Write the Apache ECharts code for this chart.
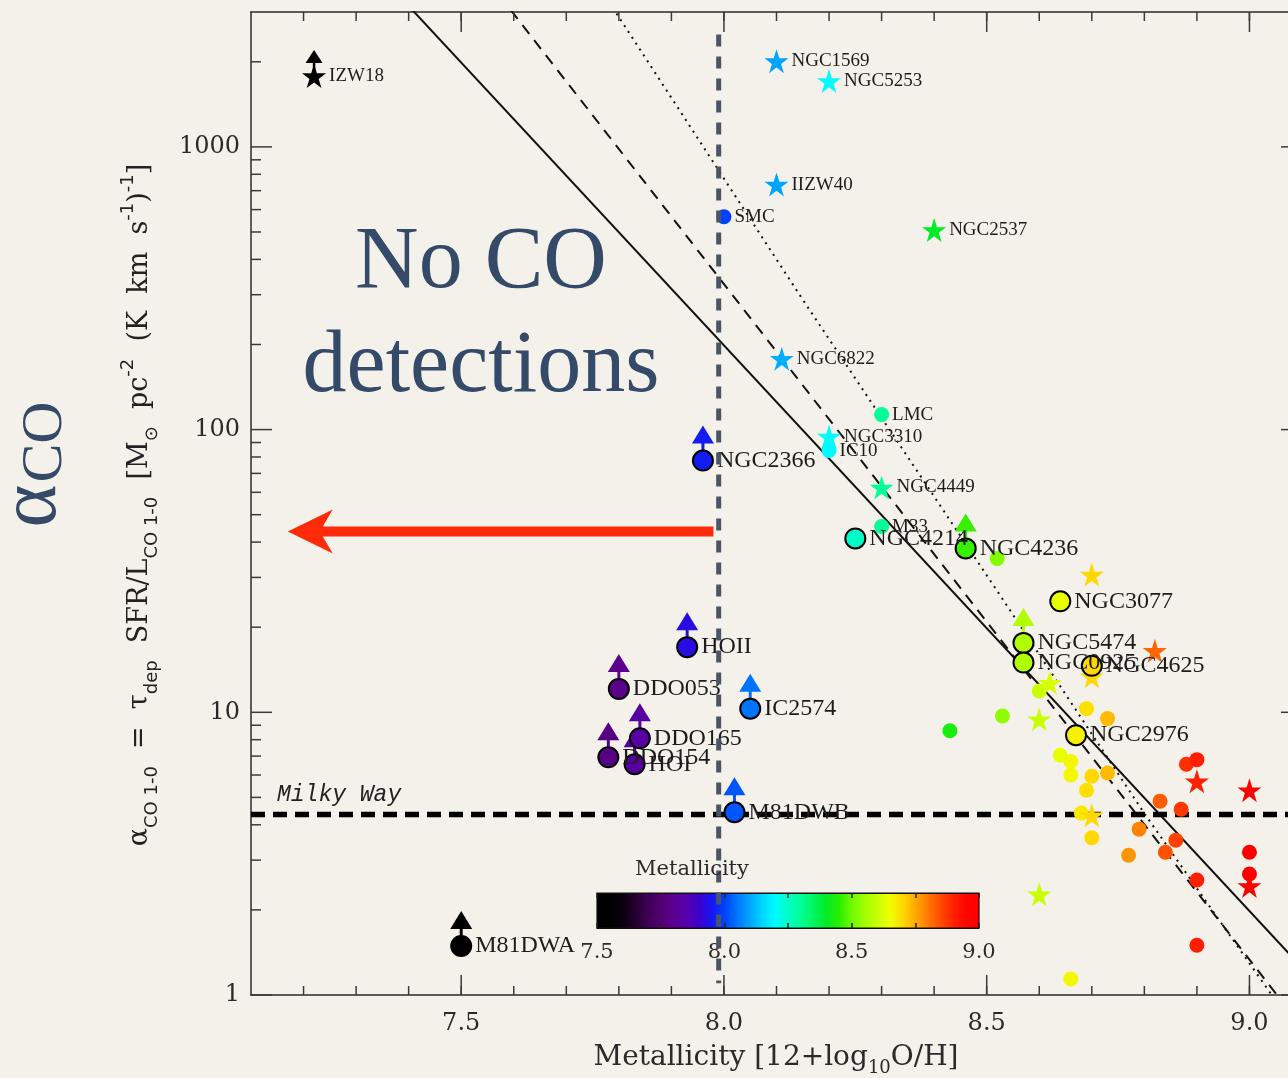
<!DOCTYPE html>
<html>
<head>
<meta charset="utf-8">
<title>alpha_CO vs metallicity</title>
<script src="https://cdn.jsdelivr.net/npm/echarts@6/dist/echarts.min.js"></script>
<style>
  html, body { margin: 0; padding: 0; background: #f4f1ea; overflow: hidden; }
  #chart { width: 1288px; height: 1078px; }
</style>
</head>
<body>
<div id="chart"></div>
<script>
// ---------------- axes ----------------
const X_RANGE = [7.1, 9.1];
const Y_RANGE = [1, 3000];
const X_TICK_LABELS = [7.5, 8.0, 8.5, 9.0];
const X_MINOR_TICKS = [7.2, 7.3, 7.4, 7.5, 7.6, 7.7, 7.8, 7.9, 8.0, 8.1, 8.2, 8.3, 8.4, 8.5, 8.6, 8.7, 8.8, 8.9, 9.0];
const Y_TICK_LABELS = [1, 10, 100, 1000];
const Y_MINOR_TICKS = [2, 3, 4, 5, 6, 7, 8, 9, 20, 30, 40, 50, 60, 70, 80, 90,
                       200, 300, 400, 500, 600, 700, 800, 900, 2000];
const CBAR_RANGE = [7.5, 9.0];
const CBAR_TICK_LABELS = [7.5, 8.0, 8.5, 9.0];

// ---------------- galaxies with resolved maps (outlined circles) ----------------
const MAP_NAMES = ['NGC2366', 'HOII', 'DDO053', 'DDO154', 'DDO165', 'HOI', 'IC2574', 'M81DWB', 'M81DWA',
                   'NGC4214', 'NGC4236', 'NGC3077', 'NGC5474', 'NGC0925', 'NGC4625', 'NGC2976'];
const MAP_Z     = [7.96, 7.93, 7.80, 7.78, 7.84, 7.83, 8.05, 8.02, 7.50,
                   8.25, 8.46, 8.64, 8.57, 8.57, 8.70, 8.67];
const MAP_ALPHA = [77.7, 17.0, 12.1, 6.93, 8.09, 6.55, 10.3, 4.43, 1.49,
                   41.2, 38.0, 24.7, 17.6, 15.0, 14.6, 8.3];
const MAP_LOWER_LIMIT = [true, true, true, true, true, true, true, true, true,
                         false, true, false, true, false, false, false];

// ---------------- starburst / dwarf galaxies (stars) ----------------
const STAR_NAMES = ['IZW18', 'NGC1569', 'NGC5253', 'IIZW40', 'NGC2537', 'NGC6822', 'NGC3310', 'NGC4449',
                    '', '', '', '', '', '', '', '', '', ''];
const STAR_Z     = [7.22, 8.10, 8.20, 8.10, 8.40, 8.11, 8.20, 8.30,
                    8.70, 8.82, 8.70, 8.62, 8.60, 8.70, 8.90, 9.00, 9.00, 8.60];
const STAR_ALPHA = [1780, 2010, 1710, 736, 508, 178, 94.5, 62.4,
                    30.7, 16.5, 13.4, 12.7, 9.45, 4.32, 5.7, 5.3, 2.43, 2.27];
const STAR_LOWER_LIMIT = [true, false, false, false, false, false, false, false,
                          false, false, false, false, false, false, false, false, false, false];

// ---------------- other galaxies (small dots) ----------------
const DOT_NAMES = ['SMC', 'LMC', 'IC10', 'M33', '', '', '', '', '', '', '', '', '', '', '', '',
                   '', '', '', '', '', '', '', '', '', '', '', '', '', '', ''];
const DOT_Z     = [8.00, 8.30, 8.20, 8.30, 8.52, 8.60, 8.53, 8.43, 8.69, 8.73, 8.64, 8.66, 8.66, 8.70, 8.73, 8.69,
                   8.68, 8.70, 8.77, 8.79, 8.83, 8.87, 8.86, 8.84, 8.90, 8.88, 8.90, 9.00, 9.00, 8.90, 8.66];
const DOT_ALPHA = [566, 113, 84.3, 45.4, 35.0, 11.9, 9.7, 8.6, 10.3, 9.5, 7.05, 6.7, 6.0, 5.94, 6.1, 5.3,
                   4.4, 3.6, 3.12, 3.86, 4.85, 4.54, 3.53, 3.2, 2.55, 6.55, 6.8, 3.2, 2.68, 1.5, 1.14];

// ---------------- scaling relations ----------------
const REL_SOLID_Z      = [7.40, 9.10];
const REL_SOLID_ALPHA  = [3150, 1.25];
const REL_DASHED_Z     = [7.55, 9.10];
const REL_DASHED_ALPHA = [3890, 0.77];
const REL_DOTTED_Z     = [7.76, 7.795, 8.15, 8.533, 8.801, 9.044, 9.10];
const REL_DOTTED_ALPHA = [3770, 2976, 288, 24.7, 4.36, 0.99, 0.71];

// ---------------- reference markers ----------------
const MILKY_WAY_ALPHA = 4.35;
const CO_LIMIT_Z = 7.99;
const CO_LIMIT_ALPHA = [2500, 1.1];
const NO_CO_ARROW_Z = [7.98, 7.17];   // tail, tip
const NO_CO_ARROW_ALPHA = 43.6;

// metallicity colour map, one colour every 0.05 dex from 7.5 to 9.0
const PALETTE = ['#000000', '#000000', '#0a000c', '#24002c', '#3e0054', '#520072', '#5c008e', '#5600aa',
                 '#4000cc', '#1814f0', '#0040ff', '#0074ff', '#00a4ff', '#00d6ff', '#00fcff', '#00ffc8',
                 '#00ff96', '#00f660', '#00ec28', '#28f000', '#70fa00', '#a0ff00', '#c8ff00', '#f0ff00',
                 '#ffd800', '#ffa800', '#ff7800', '#ff4800', '#ff1e00', '#ff0400', '#ff0000'];

const INK = '#1c1c1c';
const TICK_COLOR = '#3a3a3a';
const SLATE = '#344a68';
const STAR_PATH = 'path://M50,0 L61.2,34.5 L97.6,34.5 L68.2,55.9 L79.4,90.5 L50,69.1 L20.6,90.5 L31.8,55.9 L2.4,34.5 L38.8,34.5 Z';

const near = (list, v) => list.some(t => Math.abs(t - v) < 1e-6);

function pairs(zs, as) { return zs.map((z, i) => [z, as[i]]); }
function named(names, zs, as) { return names.map((n, i) => ({ name: n, value: [zs[i], as[i]] })); }
function limits(zs, as, flags) { return zs.map((z, i) => [z, as[i]]).filter((_, i) => flags[i]); }

// upward arrow marking a lower limit, coloured like its point
function limitArrow(len, headLen, headW, stemW) {
  return function (params, api) {
    const p = api.coord([api.value(0), api.value(1)]);
    const color = api.visual('color');
    const tipY = p[1] - len;
    return {
      type: 'group',
      children: [
        { type: 'rect', shape: { x: p[0] - stemW / 2, y: tipY + headLen - 1, width: stemW, height: len - headLen + 1 },
          style: { fill: color } },
        { type: 'polygon', shape: { points: [[p[0], tipY], [p[0] - headW / 2, tipY + headLen], [p[0] + headW / 2, tipY + headLen]] },
          style: { fill: color } }
      ]
    };
  };
}

// inward ticks on the bottom and top spines
function xTicks(len) {
  return function (params, api) {
    const v = api.value(0);
    const b = api.coord([v, Y_RANGE[0]]);
    const t = api.coord([v, Y_RANGE[1]]);
    const st = { stroke: TICK_COLOR, lineWidth: 1.5 };
    return { type: 'group', children: [
      { type: 'line', shape: { x1: b[0], y1: b[1], x2: b[0], y2: b[1] - len }, style: st },
      { type: 'line', shape: { x1: t[0], y1: t[1], x2: t[0], y2: t[1] + len }, style: st }
    ] };
  };
}
// inward ticks on the left and right spines
function yTicks(len) {
  return function (params, api) {
    const v = api.value(1);
    const l = api.coord([X_RANGE[0], v]);
    const r = api.coord([X_RANGE[1], v]);
    const st = { stroke: TICK_COLOR, lineWidth: 1.5 };
    return { type: 'group', children: [
      { type: 'line', shape: { x1: l[0], y1: l[1], x2: l[0] + len, y2: l[1] }, style: st },
      { type: 'line', shape: { x1: r[0], y1: r[1], x2: r[0] - len, y2: r[1] }, style: st }
    ] };
  };
}

const tickSeries = (data, render) => ({
  type: 'custom', coordinateSystem: 'cartesian2d', xAxisIndex: 0, yAxisIndex: 0,
  silent: true, z: 3, encode: { x: 0, y: 1 }, data: data, renderItem: render
});

const labelSmall = { show: true, position: 'right', distance: 3, formatter: '{b}',
                     fontFamily: 'Liberation Serif', fontSize: 19, color: INK };
const labelLarge = { show: true, position: 'right', distance: 3, formatter: '{b}',
                     fontFamily: 'Liberation Serif', fontSize: 24, color: INK };

const cbarStops = PALETTE.map((c, i) => ({ offset: i / (PALETTE.length - 1), color: c }));

const chart = echarts.init(document.getElementById('chart'));
chart.setOption({
  animation: false,
  backgroundColor: '#f4f1ea',
  grid: [
    { left: 251, top: 12, width: 1051, height: 983, outerBoundsMode: 'none', containLabel: false },
    { left: 597, top: 893, width: 382, height: 35, outerBoundsMode: 'none', containLabel: false }
  ],
  xAxis: [
    { type: 'value', gridIndex: 0, position: 'bottom', min: X_RANGE[0], max: X_RANGE[1], interval: 0.1,
      axisLine: { lineStyle: { color: '#2a2a2a', width: 1.5 } }, axisTick: { show: false }, splitLine: { show: false },
      axisLabel: { interval: 0, margin: 17, fontFamily: 'DejaVu Serif', fontSize: 24, color: '#2a2a2a',
                   formatter: v => near(X_TICK_LABELS, v) ? v.toFixed(1) : '' } },
    { type: 'value', gridIndex: 0, position: 'top', min: X_RANGE[0], max: X_RANGE[1], interval: 0.1,
      axisLine: { lineStyle: { color: '#2a2a2a', width: 1.5 } }, axisTick: { show: false },
      axisLabel: { show: false }, splitLine: { show: false } },
    { type: 'value', gridIndex: 1, position: 'bottom', min: CBAR_RANGE[0], max: CBAR_RANGE[1], interval: 0.25, z: 5,
      axisLine: { lineStyle: { color: '#111', width: 1 } },
      axisTick: { inside: true, length: 5, lineStyle: { color: '#222', width: 1.5 } }, splitLine: { show: false },
      axisLabel: { margin: 14, fontFamily: 'DejaVu Serif', fontSize: 21, color: '#2a2a2a',
                   formatter: v => near(CBAR_TICK_LABELS, v) ? v.toFixed(1) : '' } },
    { type: 'value', gridIndex: 1, position: 'top', min: CBAR_RANGE[0], max: CBAR_RANGE[1], interval: 0.25, z: 5,
      axisLine: { lineStyle: { color: '#111', width: 1 } },
      axisTick: { inside: true, length: 5, lineStyle: { color: '#222', width: 1.5 } },
      axisLabel: { show: false }, splitLine: { show: false } }
  ],
  yAxis: [
    { type: 'log', logBase: 10, gridIndex: 0, position: 'left', min: Y_RANGE[0], max: Y_RANGE[1],
      axisLine: { show: true, lineStyle: { color: '#2a2a2a', width: 1.5 } }, axisTick: { show: false },
      splitLine: { show: false }, minorTick: { show: false },
      axisLabel: { margin: 11, fontFamily: 'DejaVu Serif', fontSize: 24, color: '#2a2a2a',
                   formatter: v => near(Y_TICK_LABELS, Math.round(v)) ? String(Math.round(v)) : '' } },
    { type: 'log', logBase: 10, gridIndex: 0, position: 'right', min: Y_RANGE[0], max: Y_RANGE[1],
      axisLine: { show: true, lineStyle: { color: '#2a2a2a', width: 1.5 } }, axisTick: { show: false },
      axisLabel: { show: false }, splitLine: { show: false } },
    { type: 'value', gridIndex: 1, min: 0, max: 1, show: false }
  ],
  visualMap: {
    type: 'continuous', show: false, dimension: 0, min: CBAR_RANGE[0], max: CBAR_RANGE[1],
    seriesIndex: [4, 5, 6, 7, 8],
    inRange: { color: PALETTE }, outOfRange: { color: '#000000' }
  },
  series: [
    // 0-2 scaling relations
    { type: 'line', data: pairs(REL_SOLID_Z, REL_SOLID_ALPHA), symbol: 'none', silent: true, z: 1,
      lineStyle: { color: '#111', width: 2 } },
    { type: 'line', data: pairs(REL_DASHED_Z, REL_DASHED_ALPHA), symbol: 'none', silent: true, z: 1,
      lineStyle: { color: '#111', width: 2, type: [11, 8] } },
    { type: 'line', data: pairs(REL_DOTTED_Z, REL_DOTTED_ALPHA), symbol: 'none', silent: true, z: 1,
      lineStyle: { color: '#111', width: 2, type: [2, 5] } },
    // 3 Milky Way conversion factor
    { type: 'line', data: [[X_RANGE[0], MILKY_WAY_ALPHA], [X_RANGE[1], MILKY_WAY_ALPHA]], symbol: 'none', silent: true, z: 1,
      lineStyle: { color: '#000', width: 5.5, type: [14, 8] } },
    // 4-5 lower-limit arrows
    { type: 'custom', silent: true, z: 3, encode: { x: 0, y: 1 },
      data: limits(MAP_Z, MAP_ALPHA, MAP_LOWER_LIMIT), renderItem: limitArrow(35, 18, 22, 3) },
    { type: 'custom', silent: true, z: 3, encode: { x: 0, y: 1 },
      data: limits(STAR_Z, STAR_ALPHA, STAR_LOWER_LIMIT), renderItem: limitArrow(26, 13, 17, 2.5) },
    // 6 small dots
    { type: 'scatter', symbol: 'circle', symbolSize: 15, z: 4, silent: true,
      itemStyle: { opacity: 1 }, label: labelSmall,
      data: named(DOT_NAMES, DOT_Z, DOT_ALPHA) },
    // 7 stars
    { type: 'scatter', symbol: STAR_PATH, symbolSize: 24, z: 4, silent: true,
      itemStyle: { opacity: 1 }, label: labelSmall,
      data: named(STAR_NAMES, STAR_Z, STAR_ALPHA) },
    // 8 resolved galaxies
    { type: 'scatter', symbol: 'circle', symbolSize: 20, z: 5, silent: true,
      itemStyle: { opacity: 1, borderColor: '#000', borderWidth: 2 }, label: labelLarge,
      data: named(MAP_NAMES, MAP_Z, MAP_ALPHA) },
    // 9 CO detection limit
    { type: 'line', data: [[CO_LIMIT_Z, CO_LIMIT_ALPHA[0]], [CO_LIMIT_Z, CO_LIMIT_ALPHA[1]]], symbol: 'none', silent: true, z: 10,
      lineStyle: { color: '#4b5568', width: 5, type: [12, 10] } },
    // 10 "no CO" arrow
    { type: 'custom', silent: true, z: 6, encode: { x: [0, 1], y: 2 },
      data: [[NO_CO_ARROW_Z[0], NO_CO_ARROW_Z[1], NO_CO_ARROW_ALPHA]],
      renderItem: function (params, api) {
        const tail = api.coord([api.value(0), api.value(2)]);
        const tip = api.coord([api.value(1), api.value(2)]);
        const y = tail[1], hl = 45, hw = 22, notch = 10, sw = 5;
        return { type: 'polygon', shape: { points: [
          [tip[0], y], [tip[0] + hl, y - hw], [tip[0] + hl - notch, y - sw], [tail[0], y - sw],
          [tail[0], y + sw], [tip[0] + hl - notch, y + sw], [tip[0] + hl, y + hw]] },
          style: { fill: '#ff2a0a' } };
      } },
    // 11-14 axis ticks
    tickSeries(X_MINOR_TICKS.map(v => [v, Y_RANGE[0]]), xTicks(9)),
    tickSeries(X_TICK_LABELS.map(v => [v, Y_RANGE[0]]), xTicks(20)),
    tickSeries(Y_MINOR_TICKS.map(v => [X_RANGE[0], v]), yTicks(10)),
    tickSeries(Y_TICK_LABELS.map(v => [X_RANGE[0], v]), yTicks(21)),
    // 15 colour bar
    { type: 'custom', coordinateSystem: 'cartesian2d', xAxisIndex: 2, yAxisIndex: 2, silent: true, z: 2,
      encode: { x: [0, 2], y: [1, 3] }, data: [[CBAR_RANGE[0], 0, CBAR_RANGE[1], 1]],
      renderItem: function (params, api) {
        const a = api.coord([api.value(0), api.value(1)]);
        const b = api.coord([api.value(2), api.value(3)]);
        return { type: 'rect', shape: { x: a[0], y: b[1], width: b[0] - a[0], height: a[1] - b[1] },
          style: { fill: new echarts.graphic.LinearGradient(0, 0, 1, 0, cbarStops), stroke: '#111', lineWidth: 1.2 } };
      } }
  ],
  graphic: [
    { type: 'text', x: 481, y: 264, z: 20, silent: true,
      style: { text: 'No CO', fontFamily: 'Liberation Serif', fontSize: 88, fill: SLATE, align: 'center', verticalAlign: 'middle' } },
    { type: 'text', x: 481, y: 368, z: 20, silent: true,
      style: { text: 'detections', fontFamily: 'Liberation Serif', fontSize: 88, fill: SLATE, align: 'center', verticalAlign: 'middle' } },
    { type: 'text', x: 33, y: 506, rotation: Math.PI / 2, z: 20, silent: true,
      style: { text: 'α', fontFamily: 'Liberation Serif', fontSize: 82, fill: SLATE, align: 'center', verticalAlign: 'middle' } },
    { type: 'text', x: 46, y: 442, rotation: Math.PI / 2, z: 20, silent: true,
      style: { text: 'CO', fontFamily: 'Liberation Serif', fontSize: 58, fill: SLATE, align: 'center', verticalAlign: 'middle' } },
    { type: 'text', x: 140, y: 505, rotation: Math.PI / 2, z: 20, silent: true,
      style: {
        text: '{m|α}{s|CO 1-0}{m|  =  τ}{s|dep}{m|  SFR/L}{s|CO 1-0}{m|  [M}{s|⊙}{m|  pc}{u|-2}{m|  (K  km  s}{u|-1}{m|)}{u|-1}{m|]}',
        align: 'center', verticalAlign: 'middle',
        rich: {
          m: { fontFamily: 'DejaVu Serif', fontSize: 27, lineHeight: 42, verticalAlign: 'middle', fill: '#222' },
          s: { fontFamily: 'DejaVu Sans', fontSize: 18, lineHeight: 25, verticalAlign: 'bottom', fill: '#222' },
          u: { fontFamily: 'DejaVu Sans', fontSize: 18, lineHeight: 21, verticalAlign: 'top', fill: '#222' }
        }
      } },
    { type: 'text', x: 776, y: 1058, z: 20, silent: true,
      style: {
        text: '{m|Metallicity [12+log}{s|10}{m|O/H]}',
        align: 'center', verticalAlign: 'middle',
        rich: {
          m: { fontFamily: 'DejaVu Serif', fontSize: 28, lineHeight: 38, verticalAlign: 'middle', fill: '#2a2a2a' },
          s: { fontFamily: 'DejaVu Serif', fontSize: 18, lineHeight: 23, verticalAlign: 'bottom', fill: '#2a2a2a' }
        }
      } },
    { type: 'text', x: 277, y: 795, z: 20, silent: true,
      style: { text: 'Milky Way', fontFamily: 'Liberation Mono', fontStyle: 'italic', fontSize: 23, fill: '#222',
               align: 'left', verticalAlign: 'middle' } },
    { type: 'text', x: 692, y: 870, z: 20, silent: true,
      style: { text: 'Metallicity', fontFamily: 'DejaVu Serif', fontSize: 21, fill: '#2a2a2a',
               align: 'center', verticalAlign: 'middle' } }
  ]
});
</script>
</body>
</html>
